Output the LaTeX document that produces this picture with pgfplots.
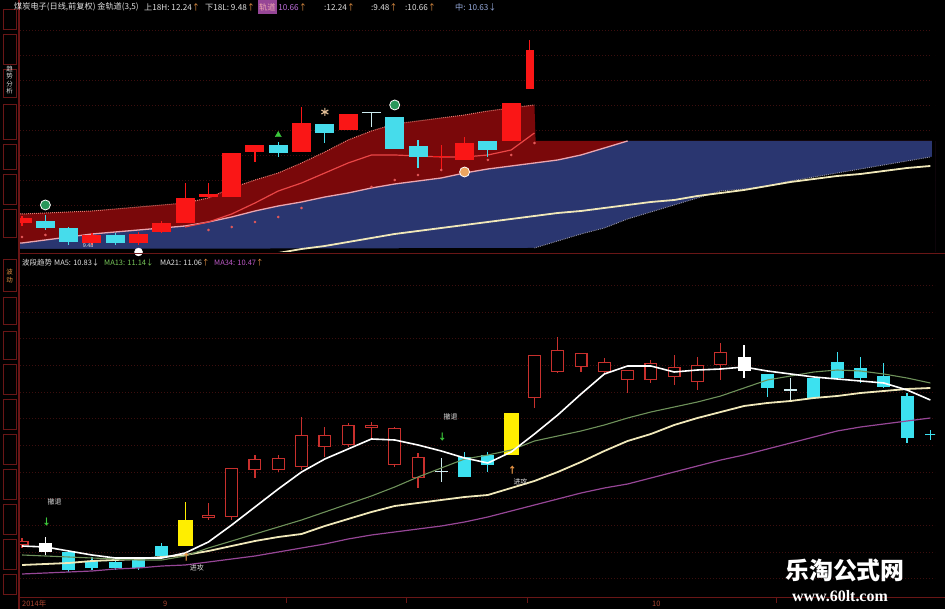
\documentclass[border=0pt]{standalone}
\usepackage{fontspec}
\setmainfont{Liberation Sans}
\newfontfamily\cjk{Noto Sans CJK SC}
\newfontfamily\serifb{Liberation Serif}
\usepackage{pgfplots}
\pgfplotsset{compat=1.18}
\usetikzlibrary{plotmarks}

\definecolor{bgred}{RGB}{122,8,10}
\definecolor{bgblue}{RGB}{42,54,112}
\definecolor{pinkl}{RGB}{235,165,175}
\definecolor{redl}{RGB}{235,70,70}
\definecolor{creaml}{RGB}{240,232,185}
\definecolor{cred}{RGB}{200,48,45}
\definecolor{tred}{RGB}{250,22,22}
\definecolor{tcyan}{RGB}{70,220,235}
\definecolor{ccyan}{RGB}{60,225,240}
\definecolor{lcyan}{RGB}{205,235,240}
\definecolor{cyel}{RGB}{255,238,0}
\definecolor{gridc}{RGB}{60,14,14}
\definecolor{ma13c}{RGB}{110,145,90}
\definecolor{ma34c}{RGB}{150,70,150}
\definecolor{dimred}{RGB}{105,22,22}
\definecolor{txt}{RGB}{225,225,225}
\definecolor{arr}{RGB}{235,150,70}
\definecolor{purp}{RGB}{190,110,220}
\definecolor{dots}{RGB}{230,90,90}
\definecolor{datec}{RGB}{170,70,50}
\definecolor{edgeup}{RGB}{235,120,110}
\definecolor{edgelo}{RGB}{150,150,170}
\definecolor{sgreen}{RGB}{40,150,90}
\definecolor{sorange}{RGB}{235,165,95}
\definecolor{agreen}{RGB}{60,200,60}
\definecolor{tan}{RGB}{225,190,150}
\definecolor{zhong}{RGB}{150,170,220}
\definecolor{ma13t}{RGB}{120,200,90}
\definecolor{ma34t}{RGB}{190,90,200}

% filled candle: x, open, high, low, close, colour, body width
\newcommand{\fc}[7]{%
\addplot[color=#6,line width=1.2bp,forget plot] coordinates {(#1,#4) (#1,#3)};
\addplot[color=#6,line width=#7,forget plot] coordinates {(#1,#2) (#1,#5)};}
% hollow red candle: x, open, high, low, close
\newcommand{\hc}[5]{%
\addplot[color=cred,line width=1.2bp,forget plot] coordinates {(#1,#4) (#1,#3)};
\addplot[color=cred,line width=13bp,forget plot] coordinates {(#1,#2) (#1,#5)};
\addplot[color=black,line width=10.6bp,shorten <=1.2bp,shorten >=1.2bp,forget plot] coordinates {(#1,#2) (#1,#5)};}

\pgfplotsset{panel/.style={scale only axis, anchor=south west, xmin=-0.09, xmax=39.2,
 axis line style={draw=none}, xtick=\empty, yticklabels={}, major tick length=0pt,
 ymajorgrids, major grid style={color=gridc, dash pattern=on 1bp off 2bp, line width=0.7bp}, clip=true}}

\pgfplotstableread{
i ma5 ma13 ma21 ma34
0 63 54 44 35
1 62 53 45 36
2 58 52 46 37
3 54 51 48 38
4 51 50 49 40
5 51 49 50 41
6 51 49 52 43
7 56 53 54 44
8 67 61 58 47
9 84 68 63 50
10 102 75 68 53
11 120 82 72 57
12 137 89 75 61
13 150 97 83 65
14 160 105 90 70
15 170 113 97 74
16 169 122 103 77
17 164 132 106 80
18 158 141 109 83
19 151 150 112 87
20 146 154 114 92
21 157 159 121 98
22 175 168 128 104
23 194 173 137 110
24 215 178 147 116
25 235 184 158 121
26 243 191 168 125
27 243 197 175 131
28 237 202 184 137
29 239 207 191 143
30 240 213 197 149
31 242 221 203 154
32 238 229 206 160
33 235 233 208 166
34 232 237 211 172
35 230 239 213 178
36 228 238 216 182
37 226 235 218 185
38 219 231 220 188
39 209 226 221 191
}\matable

\begin{document}
\begin{tikzpicture}[x=1bp,y=1bp]
\useasboundingbox (0,0) rectangle (945,609);
\fill[black] (0,0) rectangle (945,609);

% ---------------- top panel ----------------
\begin{axis}[panel, at={(20bp,357bp)}, width=915bp, height=240bp, ymin=357, ymax=597,
  ytick={379,404,429,454,479,504,529,554,579}]
\addplot[fill=bgred, draw=none] coordinates {(-0.09,395) (0,395) (1,396) (2,397) (3,398) (4,400) (5,402) (6,404) (7,406) (8,411) (9,421) (10,429) (11,436) (12,446) (13,457) (14,469) (15,478) (16,485) (17,488) (18,491) (19,494) (20,498) (21,501) (22,504) (22.05,468) (39.2,468)} \closedcycle;
\addplot[fill=bgblue, draw=none] coordinates {(-0.09,366) (0,366) (1,369) (2,372) (3,375) (4,377) (5,379) (6,381) (7,383) (8,387) (9,392) (10,398) (11,403) (12,407) (13,412) (14,416) (15,421) (16,425) (17,428) (18,431) (19,436) (20,440) (21,443) (22,446) (23,449) (24,454) (25,461) (26,468) (39.2,468)} \closedcycle;
\addplot[fill=black, draw=none] coordinates {(-0.09,360) (22,361) (23,368) (24,375) (25,381) (26,390) (27,397) (28,404) (29,411) (30,418) (31,420) (32,423) (33,428) (34,432) (35,436) (36,440) (37,444) (38,448) (39,452) (39.2,452)} \closedcycle;
\addplot[fill=black, draw=none] coordinates {(39.05,300) (39.05,600) (39.3,600) (39.3,300)} --cycle;
\addplot[color=edgeup, densely dotted, line width=1bp] coordinates {(-0.09,395) (0,395) (1,396) (2,397) (3,398) (4,400) (5,402) (6,404) (7,406) (8,411) (9,421) (10,429) (11,436) (12,446) (13,457) (14,469) (15,478) (16,485) (17,488) (18,491) (19,494) (20,498) (21,501) (22,504)};
\addplot[color=edgelo, densely dotted, line width=0.9bp] coordinates {(22,361) (23,368) (24,375) (25,381) (26,390) (27,397) (28,404) (29,411) (30,418) (31,420) (32,423) (33,428) (34,432) (35,436) (36,440) (37,444) (38,448) (39,452)};
\addplot[color=pinkl, line width=1.3bp] coordinates {(-0.09,366) (0,366) (1,369) (2,372) (3,375) (4,377) (5,379) (6,381) (7,383) (8,387) (9,392) (10,398) (11,403) (12,407) (13,412) (14,416) (15,421) (16,425) (17,428) (18,431) (19,436) (20,440) (21,443) (22,446) (23,449) (24,454) (25,461) (26,468)};
\addplot[color=redl, line width=1.2bp] coordinates {(7,382) (8,387) (9,395) (10,406) (11,418) (12,426) (13,436) (14,446) (15,454) (16,454) (17,453) (18,452) (19,452) (20,454) (21,459) (22,476)};
\addplot[color=creaml, line width=1.8bp] coordinates {(11,356) (12,360) (13,363) (14,367) (15,371) (16,375) (17,378) (18,381) (19,384) (20,387) (21,390) (22,393) (23,396) (24,398) (25,401) (26,404) (27,407) (28,409) (29,413) (30,416) (31,419) (32,423) (33,427) (34,430) (35,433) (36,435) (37,438) (38,441) (39,443)};
\addplot[only marks, mark=*, mark size=1.1bp, color=dots] coordinates {(0,372) (1,374) (8,379) (9,382) (10,387) (11,392) (12,401) (15,422) (16,429) (17,434) (18,439) (20,449) (21,454) (22,466)};
\fc{0}{386}{393}{383}{391}{tred}{19bp}
\fc{1}{388}{394}{379}{381}{tcyan}{19bp}
\fc{2}{381}{382}{364}{367}{tcyan}{19bp}
\fc{3}{366}{376}{364}{374}{tred}{19bp}
\fc{4}{374}{376}{364}{366}{tcyan}{19bp}
\fc{5}{366}{377}{364}{375}{tred}{19bp}
\fc{6}{377}{388}{376}{386}{tred}{19bp}
\fc{7}{386}{426}{386}{411}{tred}{19bp}
\fc{8}{412}{426}{411}{415}{tred}{19bp}
\fc{9}{412}{456}{412}{456}{tred}{19bp}
\fc{10}{457}{464}{447}{464}{tred}{19bp}
\fc{11}{464}{467}{452}{456}{tcyan}{19bp}
\fc{12}{457}{502}{457}{486}{tred}{19bp}
\fc{13}{485}{485}{466}{476}{tcyan}{19bp}
\fc{14}{479}{495}{479}{495}{tred}{19bp}
\fc{15}{495.5}{497}{482}{497}{lcyan}{19bp}
\fc{16}{492}{492}{460}{460}{tcyan}{19bp}
\fc{17}{463}{469}{441}{452}{tcyan}{19bp}
\fc{18}{451.5}{464}{439}{453}{tred}{17bp}
\fc{19}{449}{472}{449}{466}{tred}{19bp}
\fc{20}{468}{468}{452}{459}{tcyan}{19bp}
\fc{21}{468}{506}{468}{506}{tred}{19bp}
\fc{21.8}{520}{569}{520}{559}{tred}{8bp}
\addplot[only marks, mark=*, mark size=5bp, mark options={fill=sgreen, draw=white, line width=0.8bp}] coordinates {(1,404) (16,504)};
\addplot[only marks, mark=*, mark size=5bp, mark options={fill=sorange, draw=white, line width=0.8bp}] coordinates {(19,437)};
\addplot[only marks, mark=triangle*, mark size=3.5bp, color=agreen] coordinates {(11,474)};
\addplot[only marks, mark=asterisk, mark size=4bp, line width=1.2bp, color=tan] coordinates {(13,497)};
\addplot[only marks, mark=halfcircle*, mark size=4bp, color=white] coordinates {(5,357)};
\node[anchor=west, text=txt, font=\fontsize{5.5}{6}\selectfont, inner sep=0] at (axis cs:2.6,363) {9.48};
\end{axis}

% ---------------- bottom panel ----------------
\begin{axis}[panel, at={(20bp,11bp)}, width=915bp, height=330bp, ymin=11, ymax=341,
  ytick={31,57,84,111,137,164,191,217,244,271,297,324}]
\hc{0}{64}{71}{61}{68}
\fc{1}{57}{72}{54}{66}{white}{13bp}
\fc{2}{57}{59}{37}{39}{ccyan}{13bp}
\fc{3}{48}{52}{39}{41}{ccyan}{13bp}
\fc{4}{47}{49}{39}{41}{ccyan}{13bp}
\fc{5}{50}{52}{39}{41}{ccyan}{13bp}
\fc{6}{63}{66}{52}{53}{ccyan}{13bp}
\fc{7}{63}{107}{63}{89}{cyel}{15bp}
\hc{8}{91}{106}{89}{94}
\hc{9}{92}{141}{89}{141}
\hc{10}{139}{154}{131}{150}
\hc{11}{139}{154}{137}{151}
\hc{12}{142}{192}{139}{174}
\hc{13}{162}{182}{152}{174}
\hc{14}{164}{186}{162}{184}
\hc{15}{181}{187}{171}{184}
\hc{16}{144}{182}{142}{181}
\hc{17}{131}{156}{121}{152}
\fc{18}{136.5}{151}{127}{138}{lcyan}{13bp}
\fc{19}{152}{157}{132}{132}{ccyan}{13bp}
\fc{20}{154}{157}{137}{144}{ccyan}{13bp}
\fc{21}{154}{196}{154}{196}{cyel}{15bp}
\hc{22}{211}{254}{201}{254}
\hc{23}{237}{272}{236}{259}
\hc{24}{242}{256}{237}{256}
\hc{25}{237}{251}{234}{247}
\hc{26}{229}{239}{216}{239}
\hc{27}{229}{249}{226}{246}
\hc{28}{232}{254}{224}{242}
\hc{29}{227}{252}{219}{244}
\hc{30}{244}{266}{229}{257}
\fc{31}{238}{264}{231}{252}{white}{13bp}
\fc{32}{235}{235}{212}{221}{ccyan}{13bp}
\fc{33}{218}{231}{209}{219.5}{lcyan}{13bp}
\fc{34}{231}{231}{211}{211}{ccyan}{13bp}
\fc{35}{247}{257}{229}{231}{ccyan}{13bp}
\fc{36}{241}{252}{226}{231}{ccyan}{13bp}
\fc{37}{233}{246}{221}{222}{ccyan}{13bp}
\fc{38}{213}{216}{166}{171}{ccyan}{13bp}
\fc{39}{173.5}{179}{169}{175}{ccyan}{11bp}
\addplot[color=ma34c, line width=1.2bp] table[x=i, y=ma34] {\matable};
\addplot[color=creaml, line width=1.8bp] table[x=i, y=ma21] {\matable};
\addplot[color=ma13c, line width=1.1bp] table[x=i, y=ma13] {\matable};
\addplot[color=white, line width=1.6bp] table[x=i, y=ma5] {\matable};
\node[text=agreen, font=\cjk\fontsize{9}{9}\selectfont\bfseries, inner sep=0] at (axis cs:1.05,87) {↓};
\node[text=agreen, font=\cjk\fontsize{9}{9}\selectfont\bfseries, inner sep=0] at (axis cs:18.05,172) {↓};
\node[text=arr, font=\cjk\fontsize{9}{9}\selectfont\bfseries, inner sep=0] at (axis cs:7.05,52) {↑};
\node[text=arr, font=\cjk\fontsize{9}{9}\selectfont\bfseries, inner sep=0] at (axis cs:21.05,139) {↑};
\node[text=txt, font=\cjk\fontsize{7}{8}\selectfont, inner sep=0] at (axis cs:1.4,107) {撤退};
\node[text=txt, font=\cjk\fontsize{7}{8}\selectfont, inner sep=0] at (axis cs:18.4,192) {撤退};
\node[text=txt, font=\cjk\fontsize{7}{8}\selectfont, inner sep=0] at (axis cs:7.5,41) {进攻};
\node[text=txt, font=\cjk\fontsize{7}{8}\selectfont, inner sep=0] at (axis cs:21.4,127) {进攻};
\end{axis}

% ---------------- frame, headers, labels ----------------
\draw[color=dimred, line width=1.2bp] (19,0) -- (19,609);
\draw[color=dimred, line width=1bp] (19,355) -- (945,355);
\draw[color=dimred, line width=1bp] (19,11) -- (945,11);
\foreach \xx in {286,406,527,776} {\draw[color=dimred, line width=0.8bp] (\xx,11) -- (\xx,6);}
\foreach \ya/\yb in {600/580,575/545,540/512,505/470,465/440,435/405,400/372,350/318,312/285,278/250,245/215,210/180,175/145,140/110,105/75,70/40,35/15} {\draw[color=dimred, line width=0.6bp] (3,\ya) rectangle (16,\yb);}
\node[text=txt, font=\cjk\fontsize{6.5}{7.5}\selectfont, align=center, inner sep=0] at (9.5,529) {趋\\势\\分\\析};
\node[text=arr, font=\cjk\fontsize{6.5}{7.5}\selectfont, align=center, inner sep=0] at (9.5,333) {波\\动};

\begin{scope}[every node/.style={anchor=west, inner sep=0, font=\cjk\fontsize{8.2}{9}\selectfont}]
\node[text=txt] at (14,602) {煤炭电子(日线,前复权) 金轨道(3,5)};
\node[text=txt] at (144,602) {上18H: 12.24\textcolor{arr}{↑}};
\node[text=txt] at (205,602) {下18L: 9.48\textcolor{arr}{↑}};
\node[text=purp] at (258,602) {\colorbox{ma34c}{\kern-2bp\textcolor{pinkl}{轨道}\kern-2bp}\ 10.66\textcolor{arr}{↑}};
\node[text=txt] at (324,602) {:12.24\textcolor{arr}{↑}};
\node[text=txt] at (371,602) {:9.48\textcolor{arr}{↑}};
\node[text=txt] at (405,602) {:10.66\textcolor{arr}{↑}};
\node[text=zhong] at (455,602) {中: 10.63↓};
\end{scope}
\begin{scope}[every node/.style={anchor=west, inner sep=0, font=\cjk\fontsize{7.5}{9}\selectfont}]
\node[text=txt] at (22,346) {波段趋势};
\node[text=txt] at (54,346) {MA5: 10.83↓};
\node[text=ma13t] at (104,346) {MA13: 11.14↓};
\node[text=txt] at (160,346) {MA21: 11.06\textcolor{arr}{↑}};
\node[text=ma34t] at (214,346) {MA34: 10.47\textcolor{arr}{↑}};
\node[text=datec] at (22,5) {2014年};
\node[text=datec] at (163,5) {9};
\node[text=datec] at (652,5) {10};
\end{scope}

\node[text=white, font=\cjk\bfseries\fontsize{24}{26}\selectfont, inner sep=0] at (845,39) {乐淘公式网};
\node[text=white, font=\serifb\bfseries\fontsize{16}{18}\selectfont, inner sep=0] at (840,13) {www.60lt.com};
\end{tikzpicture}
\end{document}
